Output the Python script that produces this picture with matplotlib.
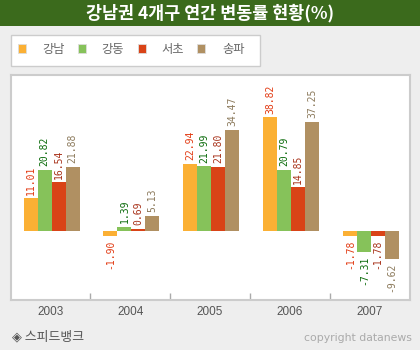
import matplotlib
matplotlib.use("Agg")
import matplotlib.pyplot as plt
from matplotlib.patches import Rectangle
import numpy as np

plt.rcParams['font.family'] = ['Noto Sans CJK KR', 'DejaVu Sans']

years = ["2003", "2004", "2005", "2006", "2007"]
series_names = ["강남", "강동", "서초", "송파"]
gangnam = [11.01, -1.90, 22.94, 38.82, -1.78]
gangdong = [20.82, 1.39, 21.99, 20.79, -7.31]
seocho = [16.54, 0.69, 21.80, 14.85, -1.78]
songpa = [21.88, 5.13, 34.47, 37.25, -9.62]
series_values = [gangnam, gangdong, seocho, songpa]

bar_colors = ["#fbb034", "#86c25a", "#d94317", "#b09062"]
label_colors = ["#e23a12", "#0b6b0b", "#a8321a", "#8c7a5c"]

W, H = 420, 350
fig = plt.figure(figsize=(W / 100, H / 100), dpi=100, facecolor="#eeeeee")

def fx(px):
    return px / W

def fy(py):
    return 1 - py / H

# title bar
fig.patches.append(Rectangle((0, fy(26)), 1, 26 / H, transform=fig.transFigure,
                             facecolor="#3b6a1c", edgecolor="none", zorder=0))
fig.text(0.5, fy(13.5), "강남권 4개구 연간 변동률 현황(%)", color="white",
         ha="center", va="center", fontsize=12.5, fontweight="bold")

# legend box
fig.patches.append(Rectangle((fx(10.5), fy(66)), 249.5 / W, 31 / H, transform=fig.transFigure,
                             facecolor="white", edgecolor="#cccccc", linewidth=1, zorder=1))
sq_x = [17.5, 77.5, 137.5, 196.5]
txt_x = [42, 101, 161, 222]
for name, c, sx, tx in zip(series_names, bar_colors, sq_x, txt_x):
    fig.patches.append(Rectangle((fx(sx), fy(52.5)), 8.5 / W, 8.5 / H, transform=fig.transFigure,
                                 facecolor=c, edgecolor="#dddddd", linewidth=0.6, zorder=2))
    fig.text(fx(tx), fy(49.5), name, color="#666666", ha="left", va="center", fontsize=8.8)

# plot area
ax = fig.add_axes([fx(10.5), fy(300), (409.5 - 10.5) / W, 225 / H])
ax.set_facecolor("white")
for s in ax.spines.values():
    s.set_color("#cccccc")
    s.set_linewidth(1.5)

n = len(years)
x = np.arange(n)
bw = 0.175
for i, (vals, c, lc) in enumerate(zip(series_values, bar_colors, label_colors)):
    pos = x + (i - 1.5) * bw + 0.015
    ax.bar(pos, vals, width=bw, color=c, edgecolor="none", zorder=2)
    for px, v in zip(pos, vals):
        if v >= 0:
            ax.annotate(f"{v:.2f}", (px, v), xytext=(0, 2.5), textcoords="offset points",
                        rotation=90, ha="center", va="bottom", color=lc,
                        fontsize=7, family="DejaVu Sans Mono")
        else:
            ax.annotate(f"{v:.2f}", (px, v), xytext=(0, -2.5), textcoords="offset points",
                        rotation=90, ha="center", va="top", color=lc,
                        fontsize=7, family="DejaVu Sans Mono")

ax.set_xlim(-0.5, n - 0.5)
ax.set_ylim(-23.7, 53.2)
ax.set_yticks([])

# boundary ticks between categories
ax.set_xticks(np.arange(n - 1) + 0.5, minor=True)
ax.tick_params(axis="x", which="minor", direction="in", length=5, color="#aaaaaa", width=1)
ax.set_xticks(x)
ax.set_xticklabels(years)
ax.tick_params(axis="x", which="major", length=0, pad=4, labelsize=8.5, labelcolor="#555555")
for lab in ax.get_xticklabels():
    lab.set_family(["Liberation Sans", "DejaVu Sans"])

# footer
fig.text(fx(12), fy(337), "◈ 스피드뱅크", color="#555555", ha="left", va="center",
         fontsize=9.3, family=["Noto Sans CJK KR", "DejaVu Sans"])
fig.text(fx(412), fy(338), "copyright datanews", color="#aaaaaa", ha="right", va="center",
         fontsize=7.8, family="DejaVu Sans")

fig.savefig("out.png", dpi=100, facecolor=fig.get_facecolor())
